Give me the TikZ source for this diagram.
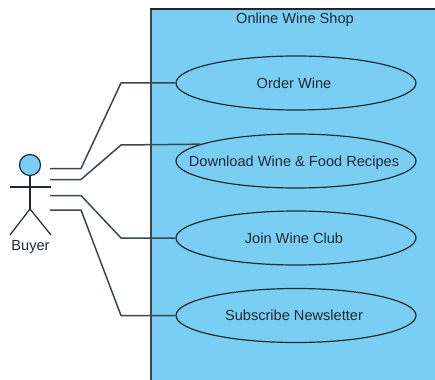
\documentclass[tikz,border=0pt]{standalone}
\usepackage{fontspec}
\setmainfont{Liberation Sans}
\usetikzlibrary{shapes.geometric}
\definecolor{fillblue}{HTML}{7ACEF4}
\definecolor{inkc}{HTML}{1F2A33}
\definecolor{edgec}{HTML}{3A4650}
\newcommand{\uclabel}[1]{\raisebox{-5.2pt}[0pt][0pt]{\kern-2pt\makebox[0pt]{#1}\kern2pt}}
\tikzset{
  usecase/.style={ellipse,draw=inkc,fill=fillblue,line width=1.2pt,minimum width=240pt,minimum height=54pt,inner sep=0pt,text=inkc,font=\fontsize{14.6}{16}\selectfont},
  assoc/.style={draw=edgec,line width=1.5pt,line join=round},
  limb/.style={draw=inkc,line width=1.2pt},
  lbl/.style={text=inkc,inner sep=0pt,font=\fontsize{14.6}{16}\selectfont}
}
\begin{document}
\begin{tikzpicture}[x=1pt,y=-1pt]
\useasboundingbox (0,0) rectangle (435,379);
\fill[fillblue] (151,9) rectangle (436,380);
\draw[draw=edgec,line width=1.6pt] (151,380) -- (151,9);
\draw[draw=black!85,line width=1.4pt] (150.2,9) -- (436,9);
\node[lbl] (title) at (295,20) {Online Wine Shop};
\node[usecase] (uc1) at (296,83) {\uclabel{Order Wine}};
\node[usecase] (uc2) at (296,161) {\uclabel{Download Wine \& Food Recipes}};
\node[usecase] (uc3) at (296,238) {\uclabel{Join Wine Club}};
\node[usecase] (uc4) at (296,315.5) {\uclabel{Subscribe Newsletter}};
\node[circle,draw=inkc,fill=fillblue,line width=1.2pt,minimum size=21pt,inner sep=0pt] (head) at (30,165) {};
\coordinate (hip) at (30,209);
\coordinate (larm) at (10,187);
\coordinate (rarm) at (51,187);
\coordinate (lfoot) at (10,235);
\coordinate (rfoot) at (51,235);
\draw[limb] (head.south) -- (hip);
\draw[limb] (larm) -- (rarm);
\draw[limb] (lfoot) -- (hip) -- (rfoot);
\node[lbl] (buyer) at (30.5,247) {Buyer};
\coordinate (a1) at (50,168.5);
\coordinate (a2) at (50,179.5);
\coordinate (a3) at (50,195.5);
\coordinate (a4) at (50,210);
\draw[assoc] (a1) -- (81,168.5) -- (121,83) -- (uc1.west);
\draw[assoc] (a2) -- (81,179.5) -- (121,145) -- (uc2.170.6);
\draw[assoc] (a3) -- (81,195.5) -- (121,238) -- (uc3.west);
\draw[assoc] (a4) -- (81,210) -- (121,315.5) -- (uc4.west);
\end{tikzpicture}
\end{document}
